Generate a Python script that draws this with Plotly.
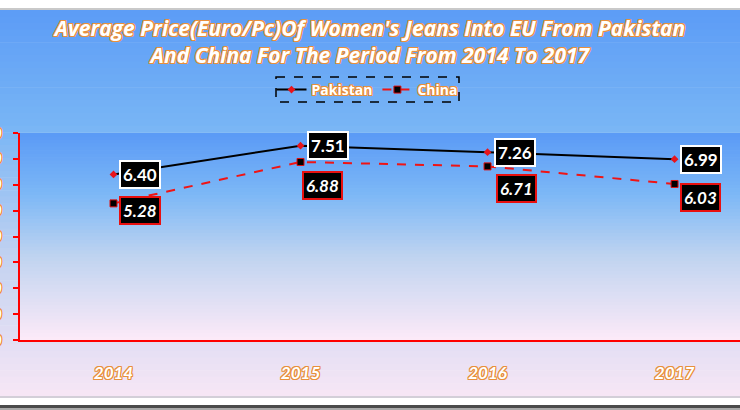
import plotly.graph_objects as go

# data
years = ["2014", "2015", "2016", "2017"]
pakistan = [6.40, 7.51, 7.26, 6.99]
china = [5.28, 6.88, 6.71, 6.03]

W, H = 740, 410
PT, PB, PL = 133, 340, 20        # plot area in page pixels
ORANGE = "#e8903c"
OUTLINE = ", ".join(f"{dx}px {dy}px 0 {ORANGE}" for dx, dy in
                    [(1, 0), (-1, 0), (0, 1), (0, -1), (1, 1), (-1, -1), (1, -1), (-1, 1)])
FONT = "Open Sans, Lato, sans-serif"
LFONT = "Lato, Open Sans, sans-serif"


def py(p):
    # page pixel row -> paper y
    return (PB - p) / (PB - PT)


def px(p):
    return (p - PL) / (W - PL)


def mix(stops, t):
    for (t0, c0), (t1, c1) in zip(stops, stops[1:]):
        if t0 <= t <= t1:
            f = (t - t0) / (t1 - t0)
            a = [int(c0[i:i + 2], 16) for i in (1, 3, 5)]
            b = [int(c1[i:i + 2], 16) for i in (1, 3, 5)]
            return "rgb(%d,%d,%d)" % tuple(round(a[k] + (b[k] - a[k]) * f) for k in range(3))
    return stops[-1][1]


def gradient(x0, x1, y0, y1, stops, n=60):
    out = []
    for i in range(n):
        a = y0 + (y1 - y0) * i / n
        b = y0 + (y1 - y0) * (i + 1) / n + 0.6
        out.append(dict(type="rect", xref="paper", yref="paper", layer="below",
                        x0=px(x0), x1=px(x1), y0=py(a), y1=py(min(b, y1)),
                        line_width=0, fillcolor=mix(stops, (i + 0.5) / n)))
    return out


shapes = []
shapes += gradient(0, W, 10, 396, [(0, "#5c9cf6"), (0.3, "#78b5f5"), (0.65, "#c4d3f1"), (1, "#f7e6f5")])
shapes += gradient(PL, W, PT, PB, [(0, "#5a9af6"), (0.3, "#7db8f6"), (0.6, "#c0d4f0"), (1, "#fdeaf8")])
# page borders
shapes += [
    dict(type="rect", xref="paper", yref="paper", layer="below", x0=px(0), x1=px(W),
         y0=py(8), y1=py(10), line_width=0, fillcolor="#c9c9c9"),
    dict(type="rect", xref="paper", yref="paper", layer="below", x0=px(0), x1=px(W),
         y0=py(396), y1=py(398), line_width=0, fillcolor="#d3cfd8"),
    dict(type="rect", xref="paper", yref="paper", layer="below", x0=px(0), x1=px(W),
         y0=py(405), y1=py(408), line_width=0, fillcolor="#4a4a4a"),
    dict(type="rect", xref="paper", yref="paper", layer="below", x0=px(0), x1=px(W),
         y0=py(408), y1=py(410), line_width=0, fillcolor="#a8a8a8"),
    # dashed legend frame
    dict(type="rect", xref="paper", yref="paper", x0=px(276), x1=px(459),
         y0=py(77), y1=py(102), line=dict(color="black", width=1.5, dash="dash")),
]

fig = go.Figure()
fig.add_trace(go.Scatter(x=years, y=pakistan, name="Pakistan", mode="lines+markers",
                         line=dict(color="black", width=2),
                         marker=dict(symbol="diamond", size=6, color="#e8141c")))
fig.add_trace(go.Scatter(x=years, y=china, name="China", mode="lines+markers",
                         line=dict(color="#f01414", width=2, dash="dash"),
                         marker=dict(symbol="square", size=7, color="black",
                                     line=dict(color="#e01010", width=1))))

# label offsets (px) for each data label
pk_shift = [(5, 0), (6, 0), (6, 0), (5, 0)]
cn_shift = [(5, -7), (1, -24), (8, -22), (5, -14)]

annotations = []
for i, (v, (dx, dy)) in enumerate(zip(pakistan, pk_shift)):
    annotations.append(dict(x=i, y=v, text=f"{v:.2f}", showarrow=False, xanchor="left",
                            yanchor="middle", xshift=dx, yshift=dy, bgcolor="black",
                            bordercolor="white", borderwidth=2, borderpad=2,
                            font=dict(family=LFONT, size=17, color="white", weight="bold")))
for i, (v, (dx, dy)) in enumerate(zip(china, cn_shift)):
    annotations.append(dict(x=i, y=v, text=f"<i>{v:.2f}</i>", showarrow=False, xanchor="left",
                            yanchor="middle", xshift=dx, yshift=dy, bgcolor="black",
                            bordercolor="#e81010", borderwidth=2, borderpad=2,
                            font=dict(family=LFONT, size=17, color="white", weight="bold")))

fig.update_layout(
    width=W, height=H,
    margin=dict(l=PL, r=0, t=PT, b=H - PB, pad=0),
    paper_bgcolor="white", plot_bgcolor="rgba(0,0,0,0)",
    title=dict(text="<i>Average Price(Euro/Pc)Of Women's Jeans Into EU From Pakistan<br>"
                    "And China For The Period From 2014 To 2017</i>",
               x=0.5, xanchor="center", y=1 - 36 / H, yanchor="top",
               font=dict(family=FONT, size=21, color="white", weight="bold", shadow=OUTLINE)),
    showlegend=True,
    legend=dict(orientation="h", x=px(367), xanchor="center", y=py(74), yanchor="top",
                bgcolor="rgba(0,0,0,0)", borderwidth=0, itemwidth=30,
                font=dict(family=FONT, size=14, color="white", weight="bold", shadow=OUTLINE)),
    xaxis=dict(type="category", range=[-0.5, 3.35], showline=True, linecolor="#ff0000",
               linewidth=2, showgrid=False, ticks="", ticklabelstandoff=17, automargin=False,
               tickfont=dict(family=LFONT, size=17, color="white", weight="bold",
                             style="italic", shadow=OUTLINE)),
    yaxis=dict(range=[0, 8], dtick=1, tickformat=".2f", showline=True, linecolor="#ff0000",
               linewidth=2, showgrid=False, zeroline=False, ticks="outside", ticklen=5,
               tickwidth=2, tickcolor="#ff0000", ticklabelstandoff=8, automargin=False,
               tickfont=dict(family=LFONT, size=16, color="white", weight="bold",
                             style="italic", shadow=OUTLINE)),
    shapes=shapes,
    annotations=annotations,
)

fig.write_html("out.html", config={"displayModeBar": False},
               post_script="document.body.style.margin='0';")
